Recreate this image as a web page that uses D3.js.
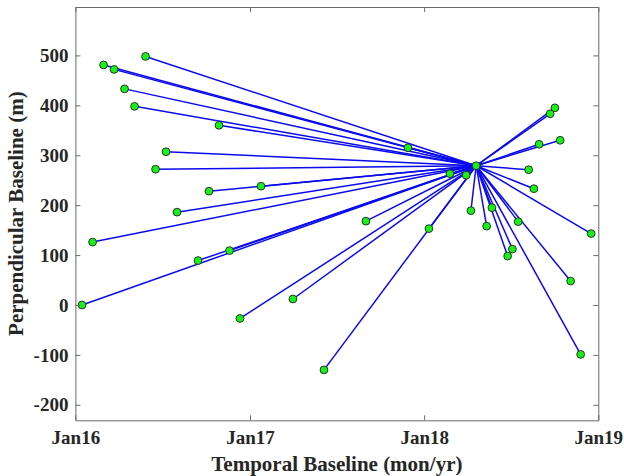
<!DOCTYPE html>
<html>
<head>
<meta charset="utf-8">
<script src="https://cdn.jsdelivr.net/npm/d3@7"></script>
<style>
  html, body { margin: 0; padding: 0; background: #fff; }
  svg { display: block; }
  .tick text { font-family: "Liberation Serif", "Times New Roman", serif; font-weight: bold; font-size: 19px; fill: #262626; }
  .title { font-family: "Liberation Serif", "Times New Roman", serif; font-weight: bold; font-size: 21px; fill: #262626; }
</style>
</head>
<body>
<svg id="chart" width="624" height="476"></svg>
<script>
// Reference (master) acquisition
const masterDate = "2018-04-20";
const masterBperp = 279;

// Slave acquisitions: dates and perpendicular baselines (m)
const slaveDates = [
  "2016-05-27", "2016-02-29", "2016-03-22", "2016-04-13", "2016-05-04",
  "2016-10-28", "2016-07-09", "2016-06-17", "2016-10-07", "2017-01-24",
  "2016-08-01", "2016-02-06", "2016-09-14", "2016-11-19", "2016-01-15",
  "2016-12-11", "2017-04-01", "2017-06-05", "2018-01-11", "2018-06-25",
  "2018-07-05", "2018-11-04", "2018-11-25", "2018-12-17", "2017-11-28",
  "2018-02-24", "2018-03-30", "2018-10-02", "2018-09-22", "2018-08-30",
  "2018-10-13", "2018-08-08", "2018-08-19", "2018-04-09", "2018-05-23",
  "2018-05-12", "2018-07-17", "2017-09-01"
];
const slaveBperp = [
  498, 481, 472, 433, 398,
  360, 307, 272, 228, 238,
  186, 126, 89, 109, 0,
  -27, 12, -130, 153, 98,
  112, 48, -99, 143, 315,
  263, 260, 395, 383, 322,
  330, 271, 233, 189, 195,
  158, 167, 168
];

// Axis ticks
const xTickDates = ["2016-01-01", "2017-01-01", "2018-01-01", "2019-01-01"];
const xTickLabels = ["Jan16", "Jan17", "Jan18", "Jan19"];
const yTickValues = [-200, -100, 0, 100, 200, 300, 400, 500];

const parse = d3.utcParse("%Y-%m-%d");
const svg = d3.select("#chart");

const plotLeft = 75.4, plotRight = 598.3, plotTop = 7, plotBottom = 420.3;

const x = d3.scaleUtc()
  .domain([parse("2016-01-01"), parse("2019-01-01")])
  .range([plotLeft, plotRight]);
const y = d3.scaleLinear()
  .domain([-231, 597])
  .range([plotBottom, plotTop]);

const master = { date: parse(masterDate), b: masterBperp };
const slaves = slaveDates.map((d, i) => ({ date: parse(d), b: slaveBperp[i] }));

// Baseline connections from master to each slave
svg.append("g")
  .selectAll("line")
  .data(slaves)
  .join("line")
  .attr("x1", x(master.date))
  .attr("y1", y(master.b))
  .attr("x2", d => x(d.date))
  .attr("y2", d => y(d.b))
  .attr("stroke", "#0a0aee")
  .attr("stroke-width", 1.5);

// Acquisition markers
svg.append("g")
  .selectAll("circle")
  .data(slaves.concat([master]))
  .join("circle")
  .attr("cx", d => x(d.date))
  .attr("cy", d => y(d.b))
  .attr("r", 3.9)
  .attr("fill", "#19f019")
  .attr("stroke", "#222")
  .attr("stroke-width", 0.9);

// Axes (ticks pointing inward, box on all four sides)
const xTicks = xTickDates.map(parse);
const axisColor = "#6a6a6a";

function styleAxis(g) {
  g.select(".domain").attr("stroke", axisColor).attr("stroke-width", 1);
  g.selectAll(".tick line").attr("stroke", axisColor);
}

svg.append("g")
  .attr("transform", `translate(0,${plotBottom})`)
  .call(d3.axisBottom(x).tickValues(xTicks)
    .tickFormat((d, i) => xTickLabels[i])
    .tickSizeInner(-5).tickSizeOuter(0).tickPadding(10))
  .call(styleAxis)
  .call(g => g.selectAll(".tick text").attr("dy", "0.71em"));

svg.append("g")
  .attr("transform", `translate(0,${plotTop})`)
  .call(d3.axisTop(x).tickValues(xTicks).tickFormat("")
    .tickSizeInner(-5).tickSizeOuter(0))
  .call(styleAxis);

svg.append("g")
  .attr("transform", `translate(${plotLeft},0)`)
  .call(d3.axisLeft(y).tickValues(yTickValues)
    .tickFormat(d => String(d))
    .tickSizeInner(-5).tickSizeOuter(0).tickPadding(7))
  .call(styleAxis);

svg.append("g")
  .attr("transform", `translate(${plotRight},0)`)
  .call(d3.axisRight(y).tickValues(yTickValues).tickFormat("")
    .tickSizeInner(-5).tickSizeOuter(0))
  .call(styleAxis);

// Axis titles
svg.append("text")
  .attr("class", "title")
  .attr("x", (plotLeft + plotRight) / 2)
  .attr("y", 470.5)
  .attr("text-anchor", "middle")
  .text("Temporal Baseline (mon/yr)");

svg.append("text")
  .attr("class", "title")
  .attr("transform", `translate(23,${(plotTop + plotBottom) / 2}) rotate(-90)`)
  .attr("text-anchor", "middle")
  .text("Perpendicular Baseline (m)");
</script>
</body>
</html>
